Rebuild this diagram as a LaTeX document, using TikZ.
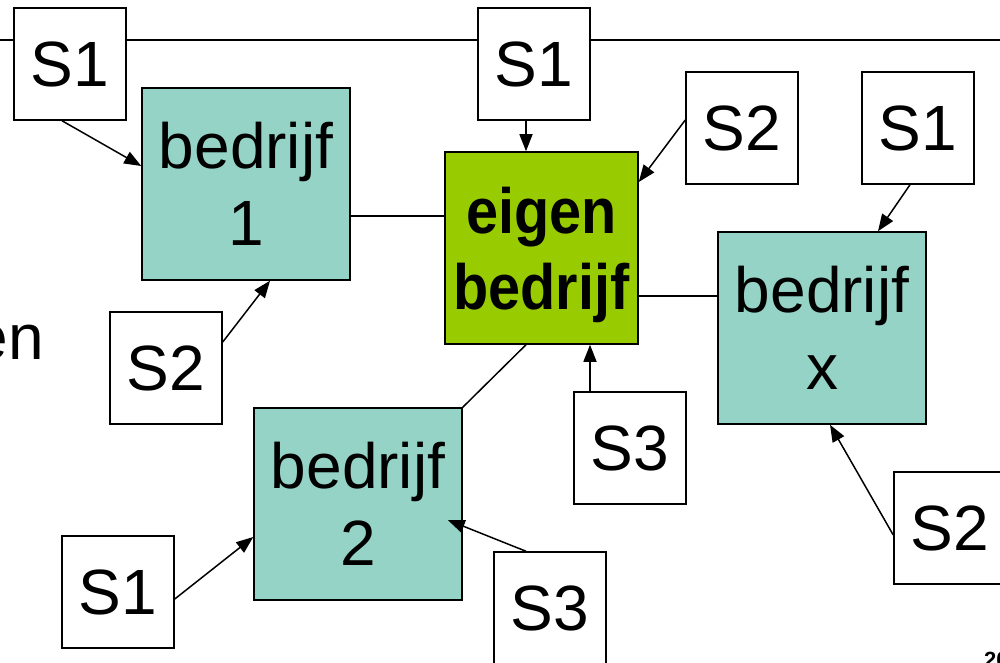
\documentclass[tikz,border=0pt]{standalone}
\usepackage{fontspec}
\setmainfont{Liberation Sans}
\newfontfamily\heavyfont{Liberation Sans Bold}[FakeStretch=0.9]
\usetikzlibrary{positioning, arrows.meta}
\definecolor{firmteal}{RGB}{148,211,198}
\definecolor{owngreen}{RGB}{153,204,0}

\begin{document}
\begin{tikzpicture}[x=1pt, y=-1pt, on grid, line width=1.5pt,
    >={Triangle[length=17pt, width=13pt]},
    every node/.style={font=\fontsize{64}{77}\selectfont},
    supplier/.style={draw, fill=white, minimum width=112pt, minimum height=112pt, inner sep=0pt},
    firm/.style={draw, fill=firmteal, minimum width=208pt, minimum height=192pt, inner sep=0pt, align=center},
    own/.style={firm, fill=owngreen, minimum width=193pt, text depth=0pt, font=\fontsize{64}{76}\heavyfont}]

        \useasboundingbox (0,0) rectangle (1000,663);
        \coordinate (lineL) at (0,40);
        \coordinate (lineR) at (1000,40);
        \draw (lineL) -- (lineR);

        \node[own] (EB) at (541.5,248) {eigen\\bedrijf};
        \node[firm, above left=64pt and 295.5pt of EB] (B1) {bedrijf\\1};
        \node[firm, below right=80pt and 280.5pt of EB] (BX) {bedrijf\\x};
        \node[firm, below left=256pt and 183.5pt of EB] (B2) {bedrijf\\2};

        \node[supplier, above left=120pt and 176pt of B1] (S1a) {S1};
        \node[supplier, below left=184pt and 80pt of B1] (S2b) {S2};
        \node[supplier, above left=184pt and 7.5pt of EB] (S1b) {S1};
        \node[supplier, above right=120pt and 200.5pt of EB] (S2a) {S2};
        \node[supplier, below right=200pt and 88.5pt of EB] (S3a) {S3};
        \node[supplier, above right=200pt and 96pt of BX] (S1c) {S1};
        \node[supplier, below right=200pt and 128pt of BX] (S2c) {S2};
        \node[supplier, below left=88pt and 240pt of B2] (S1d) {S1};
        \node[supplier, below right=104pt and 192pt of B2] (S3b) {S3};

        \node[anchor=base east] (en) at (48,359) {en};
        \node[anchor=base west, font=\fontsize{22}{26}\selectfont\bfseries] (page) at (980,667) {20};

        \path
            ([yshift=-32pt]B1.east) edge ([yshift=-32pt]B1.east -| EB.west)
            ([yshift=-48pt]EB.east) edge ([yshift=-48pt]EB.east -| BX.west)
            ([xshift=-15.5pt]EB.south) edge (B2.north east);

        \path[->]
            ([xshift=-8pt]S1a.south) edge ([yshift=18pt]B1.west)
            ([xshift=-8pt]S1b.south) edge ([xshift=-8pt]S1b.south |- EB.north)
            ([yshift=8pt]S2a.west) edge ([yshift=66pt]EB.east)
            ([xshift=-8pt]S1c.south) edge ([xshift=56pt]BX.north)
            ([yshift=26pt]S2b.east) edge ([xshift=24pt]B1.south)
            ([xshift=-40pt]S3a.north) edge ([xshift=-40pt]S3a.north |- EB.south)
            ([yshift=-7pt]S1d.east) edge ([yshift=-33pt]B2.west)
            ([xshift=-24pt]S3b.north) edge ([xshift=-15pt,yshift=-16pt]B2.east)
            ([yshift=-7pt]S2c.west) edge ([xshift=8pt]BX.south);
\end{tikzpicture}
\end{document}
